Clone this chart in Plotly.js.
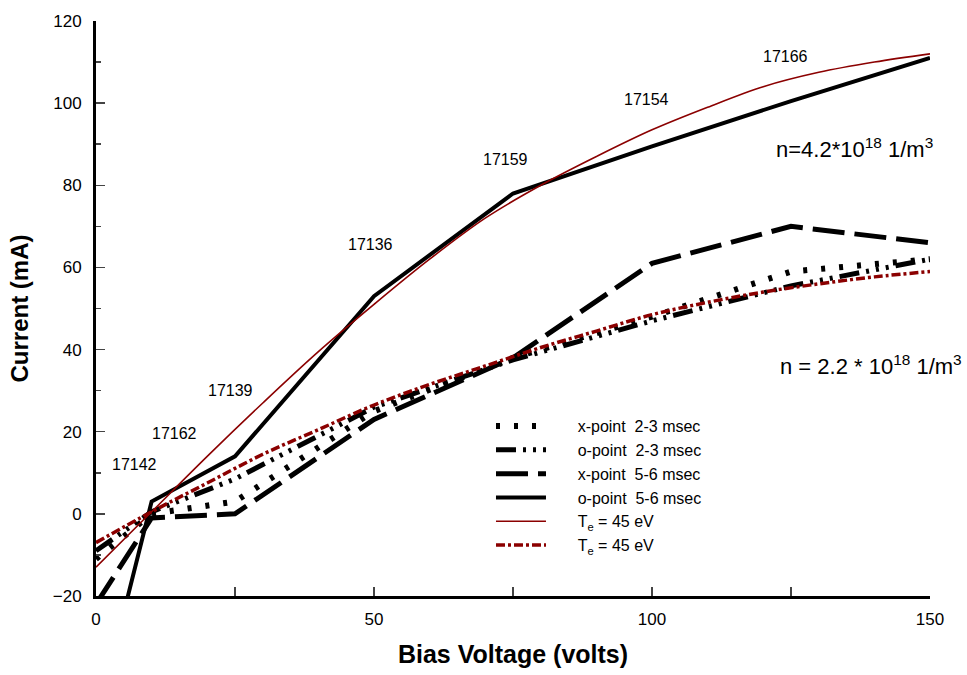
<!DOCTYPE html>
<html>
<head>
<meta charset="utf-8">
<script src="https://cdn.plot.ly/plotly-3.0.1.min.js"></script>
<style>html,body{margin:0;padding:0;background:#fff;}#chart{width:967px;height:675px;}</style>
</head>
<body>
<div id="chart"></div>
<script>
// x-point 2-3 msec
var xp23_x = [0, 10, 25, 50, 75, 100, 125, 150];
var xp23_y = [-11, 0, 3, 25, 38, 48, 59, 62];
// o-point 2-3 msec
var op23_x = [0, 10, 25, 50, 75, 100, 125, 150];
var op23_y = [-9, 0.5, 8.5, 26, 37.5, 47, 55.5, 62];
// x-point 5-6 msec
var xp56_x = [0, 10, 25, 50, 75, 100, 125, 150];
var xp56_y = [-22, -1, 0, 23, 38, 61, 70, 66];
// o-point 5-6 msec
var op56_x = [5, 10, 25, 50, 75, 100, 125, 150];
var op56_y = [-24, 3, 14, 53, 78, 89.5, 100.5, 111];
// Te = 45 eV model curves
var te1_x = [0, 10, 20, 30, 40, 50, 60, 70, 80, 90, 100, 110, 120, 130, 140, 150];
var te1_y = [-13, 0.5, 14, 27, 39.5, 51, 62, 72, 80, 87, 93.5, 99, 104, 107.5, 110, 112];
var te2_x = [0, 10, 20, 30, 40, 50, 60, 70, 80, 90, 100, 110, 120, 130, 140, 150];
var te2_y = [-7, 0.5, 7.5, 14.5, 20.5, 26.5, 31.5, 36, 40.5, 44.5, 48.5, 51.5, 54, 56, 57.7, 59];
// legend labels
var names = ['x-point\u00a0\u00a02-3 msec', 'o-point\u00a0\u00a02-3 msec', 'x-point\u00a0\u00a05-6 msec',
             'o-point\u00a0\u00a05-6 msec', 'T<sub>e</sub> = 45 eV', 'T<sub>e</sub> = 45 eV'];
// shot number labels
var shot_text = ['16982', '17166', '17154', '17159', '17136', '17139', '17162', '17142', '17150'];
var shot_x = [150, 124, 99, 73.6, 49.3, 24.1, 14.2, 7, -6.5];
var shot_y = [122, 111.3, 100.8, 86.2, 65.5, 30, 19.5, 12, -9];

var FONT = 'Arial, "Liberation Sans", sans-serif';
var PAD = '\u00a0\u00a0\u00a0\u00a0\u00a0\u00a0';

var traces = [
  {x: xp23_x, y: xp23_y, mode: 'lines', name: PAD + names[0],
   line: {color: '#000', width: 6, dash: '4px,14px'}},
  {x: op23_x, y: op23_y, mode: 'lines', name: PAD + names[1],
   line: {color: '#000', width: 5, dash: '20px,7px,3px,7px,3px,7px,3px,7px'}},
  {x: xp56_x, y: xp56_y, mode: 'lines', name: PAD + names[2],
   line: {color: '#000', width: 5, dash: '32px,10px'}},
  {x: op56_x, y: op56_y, mode: 'lines', name: PAD + names[3],
   line: {color: '#000', width: 4}},
  {x: te1_x, y: te1_y, mode: 'lines', name: PAD + names[4],
   line: {color: '#8b0000', width: 1.6, shape: 'spline'}},
  {x: te2_x, y: te2_y, mode: 'lines', name: PAD + names[5],
   line: {color: '#8b0000', width: 3.5, dash: '9px,3px,3px,3px', shape: 'spline'}}
];

var annotations = shot_text.map(function(t, i) {
  return {x: shot_x[i], y: shot_y[i], text: t, showarrow: false,
          font: {family: FONT, size: 16, color: '#000'}};
});
annotations.push({xref: 'paper', yref: 'paper', x: 0.910, y: 0.779, xanchor: 'center', yanchor: 'middle',
  text: 'n=4.2*10<sup>18</sup> 1/m<sup>3</sup>', showarrow: false,
  font: {family: FONT, size: 22, color: '#000'}});
annotations.push({xref: 'paper', yref: 'paper', x: 0.929, y: 0.402, xanchor: 'center', yanchor: 'middle',
  text: 'n = 2.2 * 10<sup>18</sup> 1/m<sup>3</sup>', showarrow: false,
  font: {family: FONT, size: 22, color: '#000'}});

var layout = {
  width: 967, height: 675,
  margin: {l: 96, r: 37, t: 21, b: 79, pad: 0},
  paper_bgcolor: '#fff', plot_bgcolor: '#fff',
  font: {family: FONT, size: 16, color: '#000'},
  showlegend: true,
  legend: {x: 0.4736, y: 0.325, xanchor: 'left', yanchor: 'top', bgcolor: 'rgba(0,0,0,0)',
           font: {family: FONT, size: 16, color: '#000'}, itemwidth: 50, tracegroupgap: 0},
  xaxis: {range: [0, 150], tick0: 0, dtick: 50, ticks: 'inside', ticklen: 9, tickwidth: 1.5,
          minor: {dtick: 25, ticks: 'inside', ticklen: 9, tickwidth: 1.5},
          showline: true, linewidth: 3, linecolor: '#000', showgrid: false, zeroline: false,
          tickfont: {family: FONT, size: 17}, ticklabelstandoff: 6,
          title: {text: '<b>Bias Voltage (volts)</b>', font: {family: FONT, size: 25}, standoff: 18}},
  yaxis: {range: [-20, 120], tick0: -20, dtick: 20, ticks: 'inside', ticklen: 9, tickwidth: 1.5,
          minor: {dtick: 10, ticks: 'inside', ticklen: 5, tickwidth: 1.5},
          showline: true, linewidth: 3, linecolor: '#000', showgrid: false, zeroline: false,
          tickfont: {family: FONT, size: 17}, ticklabelstandoff: 8,
          title: {text: '<b>Current (mA)</b>', font: {family: FONT, size: 24}, standoff: 18}},
  annotations: annotations
};

Plotly.newPlot('chart', traces, layout, {displayModeBar: false, staticPlot: true});
</script>
</body>
</html>
